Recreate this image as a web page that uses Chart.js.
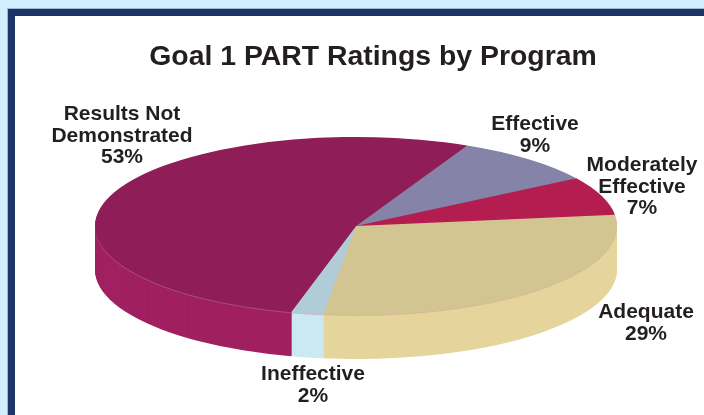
<!DOCTYPE html>
<html><head><meta charset="utf-8">
<script src="https://cdn.jsdelivr.net/npm/chart.js@4"></script>
<style>
html,body{margin:0;padding:0;width:704px;height:415px;overflow:hidden;background:#d0eefb}
#frame{position:absolute;left:8px;top:9px;width:800px;height:500px;box-sizing:border-box;border:7px solid #1b3566;background:#fff;box-shadow:0 0 0 1px #9db6d2}
#wrap{position:absolute;left:0;top:0;width:704px;height:415px}
</style></head><body>
<div id="frame"></div>
<div id="wrap"><canvas id="c" width="704" height="415"></canvas></div>
<script>
const categories = ["Effective","Moderately Effective","Adequate","Ineffective","Results Not Demonstrated"];
const values = [9,7,29,2,53];
const topColors = ["#8583a8","#b41d4f","#d2c592","#b0ccd6","#8f1d57"];
const sideColors = ["#9a98ba","#c42a5c","#e5d59c","#cbe9f3","#a02060"];
const edgeColors = ["#8583a8","#b41d4f","#d8b89a","#c9bcd0","#b04a80"];
const titleText = "Goal 1 PART Ratings by Program";
const labelLines = [["Effective","9%"],["Moderately","Effective","7%"],["Adequate","29%"],["Ineffective","2%"],["Results Not","Demonstrated","53%"]];
const labelCenters = [[535,124.5],[642,165.5],[646,312.5],[313,374.5],[122,114.5]];
const view = {cx:356,cy:226,rx:261,ry:89,depth:44,rotation:25.2};
const lineGap = 21.5, labelFont = "bold 21px 'Liberation Sans', Arial, sans-serif", inkColor = "#231f20";

function paintLayer(ctx, meta, colors, offset){
  meta.data.forEach((arc,i)=>{
    const saved = arc.options;
    arc.options = Object.assign({}, saved, {backgroundColor:colors[i], borderWidth:0, borderColor:colors[i]});
    ctx.save();
    ctx.translate(view.cx, view.cy+offset);
    ctx.scale(view.rx/arc.outerRadius, view.ry/arc.outerRadius);
    ctx.translate(-arc.x, -arc.y);
    arc.draw(ctx);
    ctx.restore();
    arc.options = saved;
  });
}
const tiltedPie = {
  id:"tiltedPie",
  beforeDatasetDraw(chart,args){
    const ctx = chart.ctx, meta = args.meta;
    for(let d=view.depth; d>=2; d--) paintLayer(ctx, meta, sideColors, d);
    paintLayer(ctx, meta, edgeColors, 1);
    paintLayer(ctx, meta, topColors, 0);
    return false;
  },
  afterDraw(chart){
    const ctx = chart.ctx;
    ctx.save();
    ctx.font = labelFont; ctx.fillStyle = inkColor;
    ctx.textAlign = "center"; ctx.textBaseline = "middle";
    labelLines.forEach((lines,i)=>{
      lines.forEach((t,j)=>ctx.fillText(t, labelCenters[i][0], labelCenters[i][1]+j*lineGap));
    });
    ctx.restore();
  }
};
new Chart(document.getElementById("c"),{
  type:"pie",
  data:{labels:categories,datasets:[{data:values,backgroundColor:topColors,borderWidth:0,clip:false}]},
  options:{
    responsive:false,animation:false,rotation:view.rotation,
    layout:{padding:{left:42}},
    plugins:{
      legend:{display:false},tooltip:{enabled:false},
      title:{display:true,text:titleText,color:inkColor,
        font:{family:"'Liberation Sans', Arial, sans-serif",size:28.4,weight:"bold"},
        padding:{top:40,bottom:4}}
    }
  },
  plugins:[tiltedPie]
});
</script></body></html>
